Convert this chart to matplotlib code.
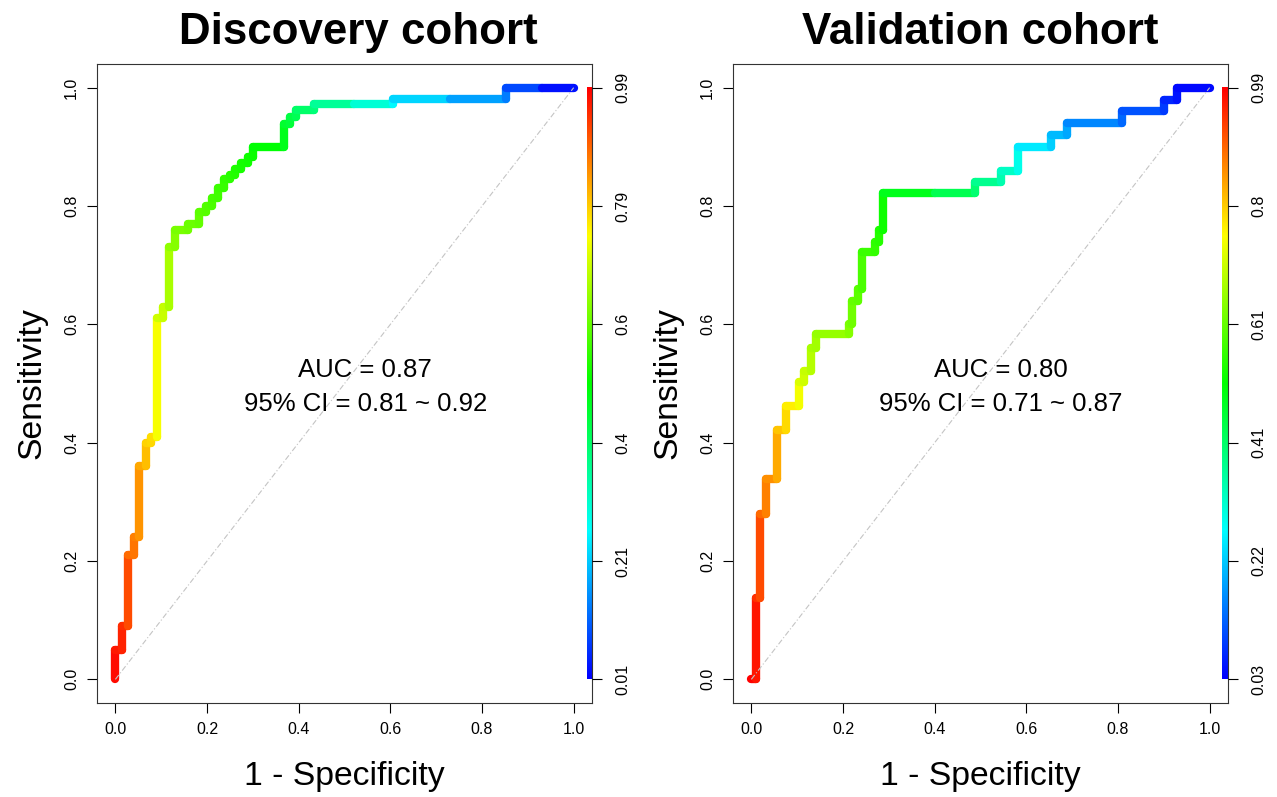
import numpy as np
import matplotlib.pyplot as plt
from matplotlib.collections import LineCollection
from matplotlib.colors import hsv_to_rgb

plt.rcParams['font.family'] = ['Liberation Sans', 'DejaVu Sans']

# Discovery cohort: ROC vertices (1 - specificity, sensitivity) and the cutoff at each vertex
disc_fpr = [0, 0, 0.014, 0.014, 0.027, 0.027, 0.04, 0.04, 0.051, 0.051, 0.066, 0.066,
            0.078, 0.078, 0.09, 0.09, 0.103, 0.103, 0.118, 0.118, 0.131, 0.131, 0.158, 0.158,
            0.183, 0.183, 0.197, 0.197, 0.211, 0.211, 0.223, 0.223, 0.236, 0.236, 0.249, 0.249,
            0.262, 0.262, 0.274, 0.274, 0.289, 0.289, 0.301, 0.301, 0.367, 0.367, 0.381, 0.381,
            0.394, 0.394, 0.434, 0.434, 0.52, 0.605, 0.605, 0.73, 0.853, 0.853, 0.93, 1.0]
disc_tpr = [0, 0.05, 0.05, 0.09, 0.09, 0.21, 0.21, 0.24, 0.24, 0.36, 0.36, 0.40,
            0.40, 0.41, 0.41, 0.61, 0.61, 0.63, 0.63, 0.73, 0.73, 0.76, 0.76, 0.77,
            0.77, 0.79, 0.79, 0.80, 0.80, 0.813, 0.813, 0.83, 0.83, 0.845, 0.845, 0.853,
            0.853, 0.863, 0.863, 0.872, 0.872, 0.883, 0.883, 0.90, 0.90, 0.939, 0.939, 0.95,
            0.95, 0.962, 0.962, 0.972, 0.972, 0.972, 0.981, 0.981, 0.981, 1.0, 1.0, 1.0]
disc_cut = [0.99, 0.97, 0.965, 0.95, 0.945, 0.89, 0.885, 0.87, 0.865, 0.83, 0.825, 0.79,
            0.785, 0.78, 0.775, 0.70, 0.695, 0.69, 0.685, 0.64, 0.635, 0.62, 0.61, 0.605,
            0.60, 0.59, 0.585, 0.58, 0.575, 0.57, 0.565, 0.56, 0.555, 0.55, 0.545, 0.54,
            0.535, 0.53, 0.525, 0.52, 0.518, 0.515, 0.512, 0.505, 0.49, 0.46, 0.45, 0.44,
            0.43, 0.41, 0.39, 0.38, 0.33, 0.26, 0.24, 0.19, 0.14, 0.12, 0.04, 0.01]
disc_cut_min, disc_cut_max = 0.01, 0.99
disc_cut_labels = ["0.01", "0.21", "0.4", "0.6", "0.79", "0.99"]

# Validation cohort
val_fpr = [0, 0.011, 0.011, 0.019, 0.019, 0.032, 0.032, 0.057, 0.057, 0.076, 0.076, 0.103,
           0.103, 0.114, 0.114, 0.13, 0.13, 0.141, 0.141, 0.214, 0.214, 0.22, 0.22, 0.232,
           0.232, 0.241, 0.241, 0.269, 0.269, 0.278, 0.278, 0.287, 0.287, 0.40, 0.489, 0.489,
           0.545, 0.545, 0.581, 0.581, 0.653, 0.653, 0.689, 0.689, 0.808, 0.808, 0.901, 0.901,
           0.928, 0.928, 1.0]
val_tpr = [0, 0, 0.138, 0.138, 0.279, 0.279, 0.339, 0.339, 0.421, 0.421, 0.462, 0.462,
           0.502, 0.502, 0.521, 0.521, 0.56, 0.56, 0.583, 0.583, 0.60, 0.60, 0.64, 0.64,
           0.66, 0.66, 0.722, 0.722, 0.74, 0.74, 0.76, 0.76, 0.822, 0.822, 0.822, 0.84,
           0.84, 0.86, 0.86, 0.90, 0.90, 0.92, 0.92, 0.94, 0.94, 0.96, 0.96, 0.98,
           0.98, 1.0, 1.0]
val_cut = [0.99, 0.99, 0.95, 0.94, 0.90, 0.88, 0.86, 0.85, 0.81, 0.80, 0.77, 0.76,
           0.72, 0.71, 0.70, 0.69, 0.67, 0.665, 0.66, 0.64, 0.63, 0.62, 0.61, 0.60,
           0.595, 0.59, 0.57, 0.56, 0.555, 0.55, 0.54, 0.535, 0.51, 0.46, 0.41, 0.40,
           0.35, 0.34, 0.31, 0.27, 0.23, 0.22, 0.19, 0.185, 0.13, 0.125, 0.09, 0.08,
           0.05, 0.045, 0.03]
val_cut_min, val_cut_max = 0.03, 0.99
val_cut_labels = ["0.03", "0.22", "0.41", "0.61", "0.8", "0.99"]

titles = ["Discovery cohort", "Validation cohort"]
auc_text = ["AUC = 0.87", "AUC = 0.80"]
ci_text = ["95% CI = 0.81 ~ 0.92", "95% CI = 0.71 ~ 0.87"]


def rainbow(c, cmin, cmax):
    # R rainbow(start=0, end=4/6), high cutoff = red, low cutoff = blue
    pos = (np.asarray(c, dtype=float) - cmin) / (cmax - cmin)
    hue = (1 - pos) * 4 / 6
    one = np.ones_like(hue)
    return hsv_to_rgb(np.stack([hue, one, one], axis=-1))


def roc_panel(ax, fpr, tpr, cut, cmin, cmax, cut_labels, title, auc, ci, title_x):
    fpr = np.array(fpr)
    tpr = np.array(tpr)
    cut = np.array(cut)
    pts = np.column_stack([fpr, tpr])
    segs = np.stack([pts[:-1], pts[1:]], axis=1)
    cols = rainbow((cut[:-1] + cut[1:]) / 2, cmin, cmax)
    lc = LineCollection(segs, colors=cols, linewidths=6, capstyle='round',
                        joinstyle='round', zorder=2)
    ax.add_collection(lc)
    ax.plot([0, 1], [0, 1], color='#c4c4c4', lw=0.8,
            linestyle=(0, (5, 2, 1, 2)), zorder=3)

    # colour bar along the right edge
    grad = rainbow(np.linspace(cmin, cmax, 256), cmin, cmax)[:, None, :]
    ax.imshow(grad, extent=[1.028, 1.04, 0, 1], aspect='auto', origin='lower',
              zorder=1, interpolation='bilinear')

    ax.set_xlim(-0.04, 1.04)
    ax.set_ylim(-0.04, 1.04)
    ticks = np.arange(0, 1.01, 0.2)
    ax.set_xticks(ticks)
    ax.set_yticks(ticks)
    ax.set_xticklabels(["%.1f" % t for t in ticks])
    ax.set_yticklabels(["%.1f" % t for t in ticks])
    ax.tick_params(axis='both', direction='out', length=7, width=0.8, labelsize=11.5)
    ax.tick_params(axis='x', pad=7)
    ax.tick_params(axis='y', pad=6, labelrotation=90)
    for lab in ax.get_yticklabels():
        lab.set_va('center')
    for sp in ax.spines.values():
        sp.set_linewidth(0.8)
        sp.set_color('#333333')

    ax2 = ax.twinx()
    ax2.set_ylim(-0.04, 1.04)
    ax2.set_yticks(ticks)
    ax2.set_yticklabels(cut_labels)
    ax2.tick_params(axis='y', direction='out', length=7, width=0.8, labelsize=11.5,
                    pad=9.5, labelrotation=90)
    for lab in ax2.get_yticklabels():
        lab.set_va('center')
    for sp in ax2.spines.values():
        sp.set_visible(False)

    ax.set_xlabel("1 - Specificity", fontsize=24.3, labelpad=17)
    ax.set_ylabel("Sensitivity", fontsize=24.3, labelpad=12)
    ax.text(title_x, 1.04 + 0.034, title, fontsize=31.6, fontweight='bold',
            ha='center', va='baseline')
    ax.text(0.545, 0.522, auc, fontsize=18.5, ha='center', va='center')
    ax.text(0.545, 0.466, ci, fontsize=18.5, ha='center', va='center')


fig = plt.figure(figsize=(12.77, 7.97), dpi=100)
ax_l = fig.add_axes([0.0760, 0.1179, 0.3876, 0.8018])
ax_r = fig.add_axes([0.5740, 0.1179, 0.3876, 0.8018])

roc_panel(ax_l, disc_fpr, disc_tpr, disc_cut, disc_cut_min, disc_cut_max,
          disc_cut_labels, titles[0], auc_text[0], ci_text[0], 0.53)
roc_panel(ax_r, val_fpr, val_tpr, val_cut, val_cut_min, val_cut_max,
          val_cut_labels, titles[1], auc_text[1], ci_text[1], 0.5)

fig.savefig("out.png", dpi=100)
